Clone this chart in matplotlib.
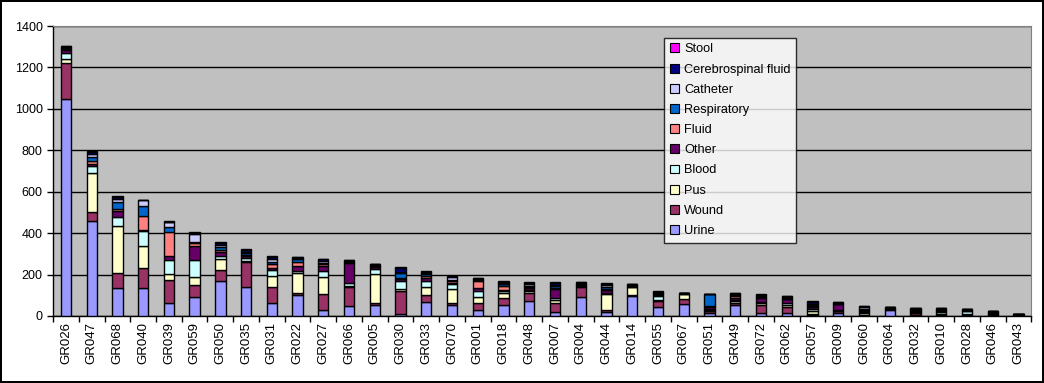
import numpy as np
import matplotlib
matplotlib.use("Agg")
import matplotlib.pyplot as plt

plt.rcParams['font.family'] = ['Liberation Sans', 'DejaVu Sans']

categories = ["GR026", "GR047", "GR068", "GR040", "GR039", "GR059", "GR050", "GR035",
              "GR031", "GR022", "GR027", "GR066", "GR005", "GR030", "GR033", "GR070",
              "GR001", "GR018", "GR048", "GR007", "GR004", "GR044", "GR014", "GR055",
              "GR067", "GR051", "GR049", "GR072", "GR062", "GR057", "GR009", "GR060",
              "GR064", "GR032", "GR010", "GR028", "GR046", "GR043"]

urine = [1050, 458, 137, 137, 64, 93, 171, 142, 61, 101, 29, 50, 53, 10, 69, 53,
         29, 53, 72, 18, 93, 18, 98, 42, 56, 16, 53, 13, 16, 3, 16, 0, 29, 6, 3, 2, 0, 0]
wound = [170, 42, 71, 96, 110, 57, 51, 120, 81, 8, 77, 88, 8, 112, 32, 8,
         35, 32, 37, 45, 49, 10, 4, 30, 24, 6, 8, 40, 26, 8, 6, 6, 3, 6, 4, 3, 4, 3]
pus = [20, 189, 226, 105, 27, 40, 53, 5, 53, 100, 84, 8, 142, 7, 37, 68,
       26, 28, 10, 12, 4, 76, 36, 6, 24, 8, 10, 8, 10, 14, 4, 6, 2, 5, 4, 3, 4, 3]
blood = [30, 34, 45, 74, 69, 80, 16, 14, 27, 10, 27, 12, 24, 40, 31, 24,
         29, 9, 8, 14, 4, 6, 4, 18, 3, 6, 6, 8, 9, 8, 4, 6, 2, 5, 10, 14, 4, 0]
other = [12, 12, 30, 5, 20, 70, 20, 8, 12, 24, 24, 96, 8, 8, 13, 8,
         16, 4, 8, 39, 4, 14, 4, 5, 2, 6, 10, 19, 19, 8, 28, 6, 2, 5, 4, 3, 4, 4]
fluid = [6, 14, 8, 68, 117, 14, 8, 6, 18, 19, 8, 4, 4, 5, 13, 6,
         35, 19, 6, 6, 2, 8, 2, 4, 2, 4, 10, 4, 4, 5, 2, 6, 2, 4, 4, 3, 3, 0]
respiratory = [4, 20, 32, 48, 24, 4, 16, 8, 10, 12, 8, 4, 8, 24, 6, 8,
               4, 11, 6, 10, 2, 10, 2, 4, 0, 62, 6, 4, 4, 8, 2, 6, 2, 4, 4, 4, 4, 0]
catheter = [6, 14, 16, 26, 21, 40, 8, 8, 12, 4, 10, 4, 4, 4, 6, 12,
            4, 5, 6, 6, 2, 6, 2, 4, 0, 0, 4, 3, 4, 6, 2, 6, 0, 2, 4, 0, 0, 0]
csf = [4, 10, 10, 2, 3, 4, 10, 8, 10, 5, 6, 4, 0, 24, 6, 6,
       3, 5, 6, 8, 2, 6, 2, 4, 0, 0, 4, 4, 3, 8, 2, 6, 0, 0, 0, 0, 0, 0]
stool = [2, 3, 6, 0, 2, 2, 3, 4, 6, 0, 0, 0, 0, 3, 4, 0,
         2, 3, 5, 6, 2, 4, 0, 4, 0, 0, 0, 2, 2, 4, 2, 0, 0, 0, 0, 0, 0, 0]

series = [
    ("Urine", urine, "#9999FF"),
    ("Wound", wound, "#993366"),
    ("Pus", pus, "#FFFFCC"),
    ("Blood", blood, "#CCFFFF"),
    ("Other", other, "#660066"),
    ("Fluid", fluid, "#FF8080"),
    ("Respiratory", respiratory, "#0066CC"),
    ("Catheter", catheter, "#CCCCFF"),
    ("Cerebrospinal fluid", csf, "#000080"),
    ("Stool", stool, "#FF00FF"),
]

fig = plt.figure(figsize=(10.44, 3.83), dpi=100)
fig.patch.set_facecolor("white")
fig.patch.set_edgecolor("black")
fig.patch.set_linewidth(1.5)
ax = fig.add_axes([0.0508, 0.175, 0.937, 0.757])
ax.set_facecolor("#C0C0C0")

x = np.arange(len(categories))
bottom = np.zeros(len(categories))
handles = []
for name, vals, color in series:
    h = ax.bar(x, vals, width=0.4, bottom=bottom, color=color,
               edgecolor="black", linewidth=1.0, label=name, zorder=3)
    handles.append(h)
    bottom += np.array(vals)

ax.set_xlim(-0.5, len(categories) - 0.5)
ax.set_ylim(0, 1400)
ax.set_yticks(range(0, 1401, 200))
ax.yaxis.grid(True, color="black", linewidth=1.0, zorder=1)
ax.set_axisbelow(True)

# ticks between categories, labels at centers
ax.set_xticks(np.arange(-0.5, len(categories), 1.0))
ax.set_xticklabels([])
ax.set_xticks(x, minor=True)
ax.set_xticklabels(categories, minor=True, rotation=90, fontsize=9.5)
ax.tick_params(axis="x", which="major", length=4, width=1, direction="out")
ax.tick_params(axis="x", which="minor", length=0, pad=4)
ax.tick_params(axis="y", length=4, width=1, labelsize=9)

for s in ["left", "bottom"]:
    ax.spines[s].set_color("black")
    ax.spines[s].set_linewidth(1)
for s in ["top", "right"]:
    ax.spines[s].set_color("#808080")

leg = ax.legend(handles[::-1], [s[0] for s in series][::-1],
                loc="upper left", bbox_to_anchor=(0.625, 0.96),
                fontsize=9.2, frameon=True, fancybox=False,
                handlelength=0.7, handleheight=0.7, handletextpad=0.4,
                labelspacing=0.64, borderpad=0.45, borderaxespad=0)
leg.get_frame().set_edgecolor("black")
leg.get_frame().set_linewidth(1)
for p in leg.get_patches():
    p.set_linewidth(0.8)
leg.set_zorder(5)

fig.savefig("out.png", dpi=100)
